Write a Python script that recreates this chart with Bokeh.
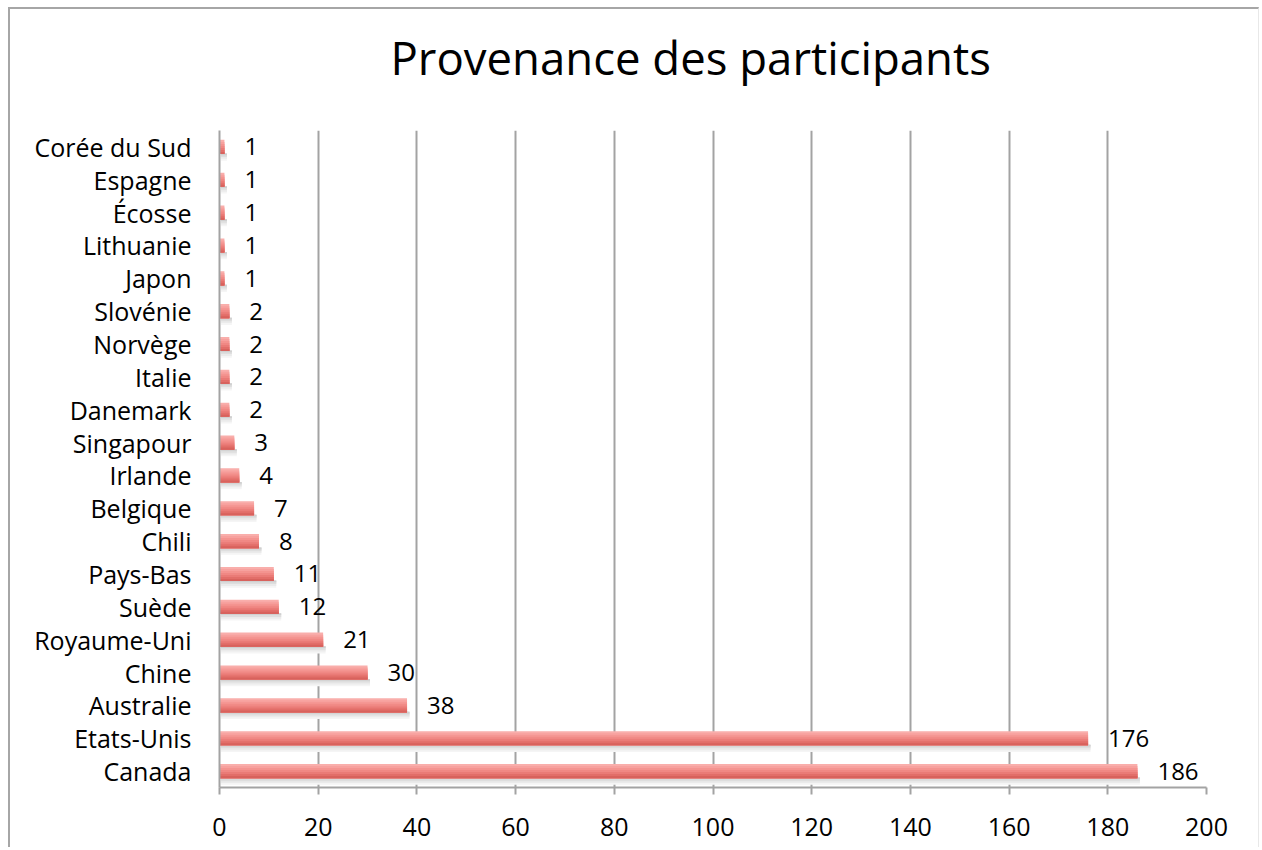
from bokeh.plotting import figure
from bokeh.models import Range1d, FactorRange, FixedTicker, Title, ColumnDataSource, LabelSet
from bokeh.transform import dodge
from bokeh.core.properties import value
from bokeh.embed import file_html
from bokeh.resources import INLINE

countries = ["Canada", "Etats-Unis", "Australie", "Chine", "Royaume-Uni", "Suède",
             "Pays-Bas", "Chili", "Belgique", "Irlande", "Singapour", "Danemark",
             "Italie", "Norvège", "Slovénie", "Japon", "Lithuanie", "Écosse",
             "Espagne", "Corée du Sud"]
participants = [186, 176, 38, 30, 21, 12, 11, 8, 7, 4, 3, 2, 2, 2, 2, 1, 1, 1, 1, 1]
x_ticks = [0, 20, 40, 60, 80, 100, 120, 140, 160, 180, 200]
title_text = "Provenance des participants"

FONT = "Open Sans"
GRID = "#a3a3a3"

p = figure(width=1251, height=840, output_backend="svg", toolbar_location=None,
           x_range=Range1d(0, 200), y_range=FactorRange(*countries, range_padding=0),
           min_border_left=209, min_border_right=55, min_border_top=121, min_border_bottom=62,
           styles={"margin-left": "8px", "margin-top": "7px",
                   "border-left": "2px solid #a6a6a6", "border-top": "2px solid #a6a6a6",
                   "border-right": "1px solid #e8e8e8"})
p.title = None
# spacer panel next to the frame, then the real title above it
p.add_layout(Title(text=" ", text_font=FONT, text_font_size="1px", standoff=40), "above")
p.add_layout(Title(text=title_text, text_font=FONT, text_font_size="45.5px",
                   text_font_style="normal", text_color="#000000", align="left",
                   vertical_align="bottom", offset=171, standoff=0), "above")
p.outline_line_color = None
p.background_fill_color = "white"
p.border_fill_color = "white"

src = ColumnDataSource(dict(country=countries, value=participants,
                            shadow=[v + 0.5 for v in participants],
                            label=[str(v) for v in participants]))

bar_h = 0.43
n = 7
sh = bar_h / n

# shadow below bars: lightest (furthest) first, each reaching up to the bar bottom
shadow_cols = ["#f5f5f5", "#ebebeb", "#dedede", "#d0d0d0"]
for i, c in enumerate(shadow_cols):
    depth = sh * (len(shadow_cols) - i) * 0.9
    off = -bar_h / 2 - depth / 2 + sh * 0.3
    p.hbar(y=dodge("country", off, range=p.y_range), left=0.3, right="shadow", height=depth,
           source=src, fill_color=c, line_color=None)

# gradient bar: each slice spans from its top to the bar bottom (top light -> bottom dark)
bar_cols = ["#f9aeab", "#f7a19e", "#f49490", "#f08884", "#ea7b77", "#e26e69", "#d8625d"]
for i, c in enumerate(bar_cols):
    top = bar_h / 2 - sh * i
    bottom = -bar_h / 2
    p.hbar(y=dodge("country", (top + bottom) / 2, range=p.y_range), left=0, right="value",
           height=top - bottom, source=src, fill_color=c, line_color=None)

labels = LabelSet(x="value", y="country", text="label", source=src, x_offset=20,
                  text_baseline="middle", text_align="left", text_font=value(FONT),
                  text_font_size="24px", text_color="#000000")
p.add_layout(labels)

p.xaxis.ticker = FixedTicker(ticks=x_ticks)
p.xgrid.ticker = FixedTicker(ticks=x_ticks)
p.xgrid.grid_line_color = GRID
p.xgrid.grid_line_width = 2
p.ygrid.grid_line_color = None

p.xaxis.axis_line_color = GRID
p.xaxis.axis_line_width = 2
p.xaxis.major_tick_line_color = GRID
p.xaxis.major_tick_line_width = 2
p.xaxis.major_tick_out = 7
p.xaxis.major_tick_in = 0
p.xaxis.minor_tick_line_color = None
p.xaxis.major_label_standoff = 23
p.xaxis.major_label_text_font = FONT
p.xaxis.major_label_text_font_size = "25px"
p.xaxis.major_label_text_color = "#000000"

p.yaxis.axis_line_color = GRID
p.yaxis.axis_line_width = 2
p.yaxis.major_tick_line_color = None
p.yaxis.major_tick_out = 0
p.yaxis.major_tick_in = 0
p.yaxis.major_label_standoff = 28
p.yaxis.major_label_text_font = FONT
p.yaxis.major_label_text_font_size = "25px"
p.yaxis.major_label_text_color = "#000000"

open("out.html", "w").write(file_html(p, INLINE))
